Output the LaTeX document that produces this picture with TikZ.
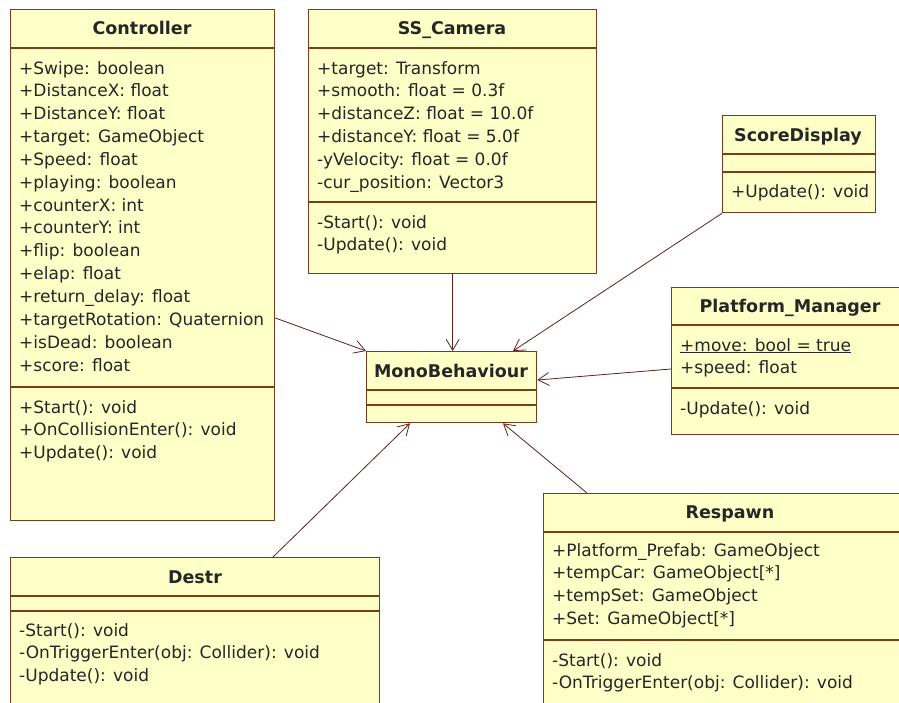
\documentclass[tikz,border=0pt]{standalone}
\usepackage{fontspec}
\newfontfamily\umlfont{DejaVu Sans}
\usetikzlibrary{arrows.meta}

\definecolor{classfill}{RGB}{255,255,200}
\definecolor{classline}{RGB}{118,62,28}
\definecolor{assocline}{RGB}{96,34,26}

\tikzset{
  classbox/.style={draw=classline, fill=classfill, line width=1.3pt, rectangle,
    inner sep=0pt, anchor=north west},
  sepline/.style={draw=classline, line width=1.3pt},
  title/.style={anchor=base, inner sep=0pt, font=\umlfont\fontsize{17.5}{20}\selectfont\bfseries, text=black!85},
  member/.style={anchor=base west, inner sep=0pt, font=\umlfont\fontsize{17}{20}\selectfont, text=black!85},
  assoc/.style={draw=assocline, line width=0.8pt,
    -{Straight Barb[length=11pt,width=13pt,line width=0.8pt]}},
}

\begin{document}
\begin{tikzpicture}[x=1pt,y=-1pt]
\useasboundingbox (0,0) rectangle (899,702);
\clip (0,0) rectangle (899,702);
\fill[white] (0,0) rectangle (899,702);

% ---- Controller ----
\node[classbox, minimum width=264pt, minimum height=511pt] (ctrl) at (10,9) {};
\draw[sepline] (ctrl.west |- 0,48) -- (ctrl.east |- 0,48);
\draw[sepline] (ctrl.west |- 0,387) -- (ctrl.east |- 0,387);
\node[title] (ctrlT) at (142,34) {Controller};
\foreach \txt [count=\i from 0] in {+Swipe: boolean, +DistanceX: float, +DistanceY: float,
    +target: GameObject, +Speed: float, +playing: boolean, +counterX: int, +counterY: int,
    +flip: boolean, +elap: float, +return\_delay: float, +targetRotation: Quaternion,
    +isDead: boolean, +score: float}
  \node[member] (ctrlA\i) at (19,74+22.85*\i) {\txt};
\foreach \txt [count=\i from 0] in {+Start(): void, +OnCollisionEnter(): void, +Update(): void}
  \node[member] (ctrlM\i) at (19,413+22.85*\i) {\txt};

% ---- SS_Camera ----
\node[classbox, minimum width=288pt, minimum height=264pt] (cam) at (308,9) {};
\draw[sepline] (cam.west |- 0,48) -- (cam.east |- 0,48);
\draw[sepline] (cam.west |- 0,202) -- (cam.east |- 0,202);
\node[title] (camT) at (452,34) {SS\_Camera};
\foreach \txt [count=\i from 0] in {+target: Transform, +smooth: float = 0.3f,
    +distanceZ: float = 10.0f, +distanceY: float = 5.0f, -yVelocity: float = 0.0f,
    -cur\_position: Vector3}
  \node[member] (camA\i) at (317,74+22.85*\i) {\txt};
\foreach \txt [count=\i from 0] in {-Start(): void, -Update(): void}
  \node[member] (camM\i) at (317,228+22.85*\i) {\txt};

% ---- ScoreDisplay ----
\node[classbox, minimum width=153pt, minimum height=97pt] (score) at (722,115) {};
\draw[sepline] (score.west |- 0,154) -- (score.east |- 0,154);
\draw[sepline] (score.west |- 0,172) -- (score.east |- 0,172);
\node[title] (scoreT) at (798,141) {ScoreDisplay};
\node[member] (scoreM0) at (731,197) {+Update(): void};

% ---- Platform_Manager ----
\node[classbox, minimum width=238pt, minimum height=147pt] (plat) at (671,287) {};
\draw[sepline] (plat.west |- 0,325) -- (plat.east |- 0,325);
\draw[sepline] (plat.west |- 0,388) -- (plat.east |- 0,388);
\node[title] (platT) at (790,312) {Platform\_Manager};
\node[member] (platA0) at (680,351) {\underline{+move: bool = true}};
\node[member] (platA1) at (680,373) {+speed: float};
\node[member] (platM0) at (680,414) {-Update(): void};

% ---- MonoBehaviour ----
\node[classbox, minimum width=170pt, minimum height=71pt] (mono) at (366,351) {};
\draw[sepline] (mono.west |- 0,390) -- (mono.east |- 0,390);
\draw[sepline] (mono.west |- 0,405) -- (mono.east |- 0,405);
\node[title] (monoT) at (451,377) {MonoBehaviour};

% ---- Destr ----
\node[classbox, minimum width=369pt, minimum height=170pt] (destr) at (10,557) {};
\draw[sepline] (destr.west |- 0,596) -- (destr.east |- 0,596);
\draw[sepline] (destr.west |- 0,611) -- (destr.east |- 0,611);
\node[title] (destrT) at (195,583) {Destr};
\foreach \txt [count=\i from 0] in {-Start(): void, -OnTriggerEnter(obj: Collider): void,
    -Update(): void}
  \node[member] (destrM\i) at (19,636+22.5*\i) {\txt};

% ---- Respawn ----
\node[classbox, minimum width=374pt, minimum height=230pt] (resp) at (543,493) {};
\draw[sepline] (resp.west |- 0,532) -- (resp.east |- 0,532);
\draw[sepline] (resp.west |- 0,640) -- (resp.east |- 0,640);
\node[title] (respT) at (730,518) {Respawn};
\foreach \txt [count=\i from 0] in {+Platform\_Prefab: GameObject, +tempCar: GameObject[*],
    +tempSet: GameObject, +Set: GameObject[*]}
  \node[member] (respA\i) at (552,556+22.85*\i) {\txt};
\foreach \txt [count=\i from 0] in {-Start(): void, -OnTriggerEnter(obj: Collider): void}
  \node[member] (respM\i) at (552,666+22.85*\i) {\txt};

% ---- associations towards MonoBehaviour ----
\draw[assoc] (ctrl.east |- 0,318) -- (mono.north west);
\draw[assoc] (cam.south) -- (cam.south |- mono.north);
\draw[assoc] (score.south west) -- (513,0 |- mono.north);
\draw[assoc] (plat.west |- 0,369) -- (mono.east |- 0,380);
\draw[assoc] (273,0 |- destr.north) -- (410,0 |- mono.south);
\draw[assoc] (587,0 |- resp.north) -- (503,0 |- mono.south);
\end{tikzpicture}
\end{document}
